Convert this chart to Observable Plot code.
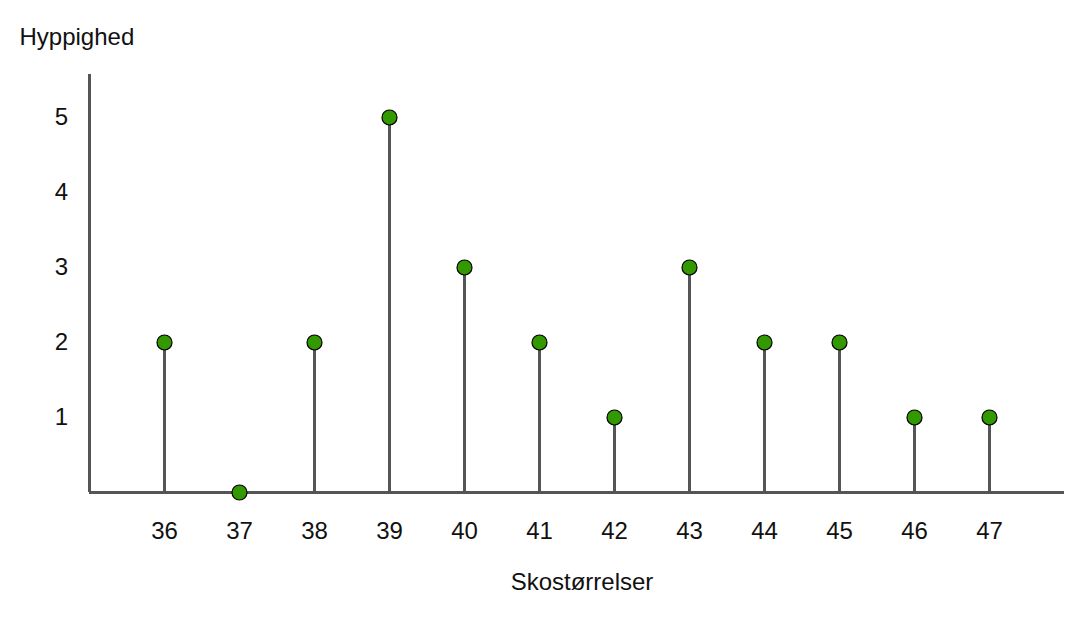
<!DOCTYPE html>
<html>
<head>
<meta charset="utf-8">
<script src="https://cdn.jsdelivr.net/npm/d3@7"></script>
<script src="https://cdn.jsdelivr.net/npm/@observablehq/plot@0.6"></script>
<style>
  html, body { margin: 0; padding: 0; background: #fff; }
  #chart svg { display: block; }
</style>
</head>
<body>
<div id="chart"></div>
<script>
const sizes = [36, 37, 38, 39, 40, 41, 42, 43, 44, 45, 46, 47];
const counts = [2, 0, 2, 5, 3, 2, 1, 3, 2, 2, 1, 1];
const yTicks = [1, 2, 3, 4, 5];
const yLabel = "Hyppighed";
const xLabel = "Skostørrelser";

const data = sizes.map((s, i) => ({ size: s, count: counts[i] }));
const font = "Liberation Sans, Arial, Helvetica, sans-serif";

const chart = Plot.plot({
  width: 1087,
  height: 618,
  marginLeft: 89,
  marginRight: 23,
  marginTop: 74,
  marginBottom: 126,
  style: { fontFamily: font, background: "#fff" },
  x: { domain: [35, 48], axis: null },
  y: { domain: [0, 5.573], axis: null },
  marks: [
    Plot.ruleX(data, { x: "size", y1: 0, y2: "count", stroke: "#555", strokeWidth: 3 }),
    Plot.ruleY([0], { x1: 35, x2: 48, stroke: "#555", strokeWidth: 3 }),
    Plot.ruleX([35], { y1: 0, y2: 5.573, stroke: "#555", strokeWidth: 3 }),
    Plot.dot(data, { x: "size", y: "count", r: 7.5, fill: "#339900", stroke: "#000", strokeWidth: 1.2 }),
    Plot.text(sizes, { x: d => d, y: 0, dy: 39, text: d => String(d), fontSize: 24, fill: "#111" }),
    Plot.text(yTicks, { x: 35, y: d => d, dx: -28, text: d => String(d), fontSize: 24, fill: "#111" }),
    Plot.text([yLabel], { frameAnchor: "top-left", dx: -70, dy: -47, textAnchor: "start", fontSize: 24, fill: "#111" }),
    Plot.text([xLabel], { frameAnchor: "bottom", dx: 5, dy: 97, fontSize: 24, fill: "#111" })
  ]
});
document.getElementById("chart").appendChild(chart);
</script>
</body>
</html>
